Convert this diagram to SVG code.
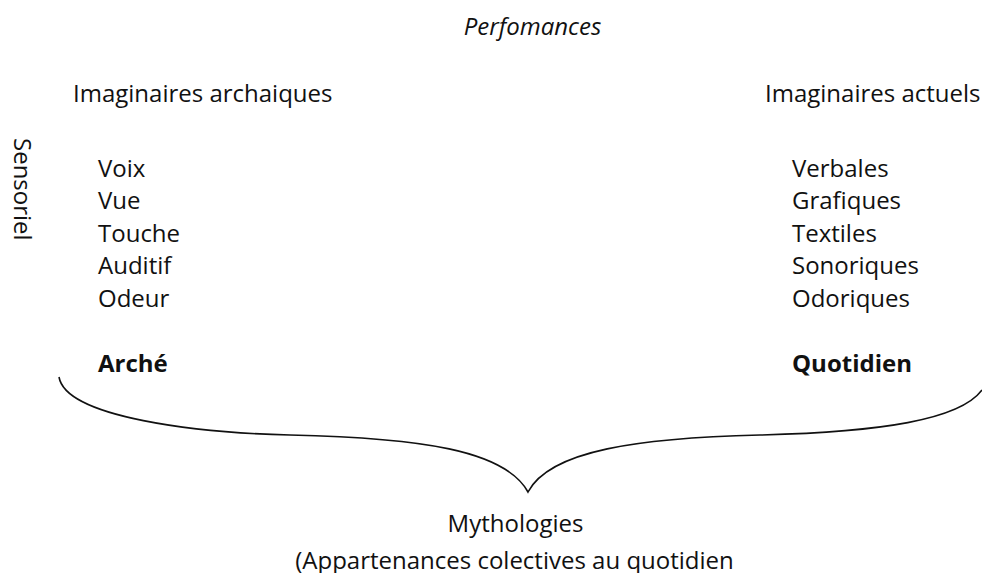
<svg xmlns="http://www.w3.org/2000/svg" width="982" height="573" viewBox="0 0 982 573">
<style>
text{font-family:"Open Sans","Noto Sans","Liberation Sans",sans-serif;font-size:24px;fill:#111}
.b{font-weight:bold}
.i{font-style:italic}
.m{text-anchor:middle}
.brace{fill:none;stroke:#111;stroke-width:1.6}
</style>
<rect width="982" height="573" fill="#fff"/>
<g id="title"><text class="i m" x="532.5" y="35">Perfomances</text></g>
<g id="sensoriel"><text transform="translate(14,138) rotate(90)">Sensoriel</text></g>
<g id="archaiques">
<text x="73" y="101.5">Imaginaires archaiques</text>
<text x="98" y="176.5">Voix</text>
<text x="98" y="209">Vue</text>
<text x="98" y="241.5">Touche</text>
<text x="98" y="274">Auditif</text>
<text x="98" y="306.5">Odeur</text>
<text class="b" x="98" y="371.5">Arché</text>
</g>
<g id="actuels">
<text x="765" y="101.5">Imaginaires actuels</text>
<text x="792" y="176.5">Verbales</text>
<text x="792" y="209">Grafiques</text>
<text x="792" y="241.5">Textiles</text>
<text x="792" y="274">Sonoriques</text>
<text x="792" y="306.5">Odoriques</text>
<text class="b" x="792" y="371.5">Quotidien</text>
</g>
<g id="connectors">
<path class="brace" d="M59,377 C66,418 200,433 290,435 C420,438 505,450 528,492 C550,450 640,438 760,435 C880,432 960,420 982,390"/>
</g>
<g id="mythologies">
<text class="m" x="515.5" y="532">Mythologies</text>
<text class="m" x="514.5" y="569">(Appartenances colectives au quotidien</text>
</g>
</svg>
